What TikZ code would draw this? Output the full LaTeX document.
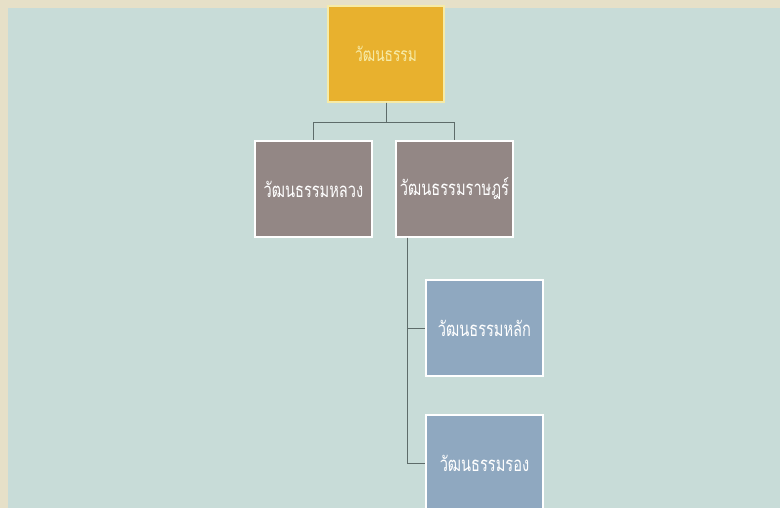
\documentclass[tikz,border=0pt]{standalone}
\usepackage{fontspec}
\newfontfamily\thaifont[Script=Thai]{Loma}
\usetikzlibrary{positioning, calc}
\definecolor{bgblue}{HTML}{C8DCD8}
\definecolor{bgbeige}{HTML}{E6E0C8}
\definecolor{rootgold}{HTML}{E8B12E}
\definecolor{rootedge}{HTML}{F6EBA8}
\definecolor{taupe}{HTML}{938785}
\definecolor{steel}{HTML}{8FA8C0}
\definecolor{linkgray}{HTML}{5E6C6A}
\newcommand{\narrowtext}[1]{\scalebox{0.86}[1.2]{#1}}
\tikzstyle{box} = [rectangle, draw=white, line width=1.5pt, minimum width=117pt, minimum height=96pt, inner sep=0pt, text=white, font=\thaifont\fontsize{17}{20}\selectfont]
\tikzstyle{link} = [draw=linkgray, line width=1pt]

\begin{document}
\begin{tikzpicture}[x=1pt, y=-1pt]
        % Background
        \fill[bgbeige] (0,0) rectangle (780,508);
        \fill[bgblue] (8,8) rectangle (780,508);
        \useasboundingbox (0,0) rectangle (780,508);
        \clip (0,0) rectangle (780,508);

        % Boxes
        \node[box, fill=rootgold, draw=rootedge, minimum width=116pt, text=rootedge, font=\thaifont\fontsize{16}{18}\selectfont] (culture) at (386, 54) {\narrowtext{วัฒนธรรม}};
        \node[box, fill=taupe] (royal) at (313.5, 189) {\narrowtext{วัฒนธรรมหลวง}};
        \node[box, fill=taupe] (folk) at (454.5, 189) {\narrowtext{วัฒนธรรมราษฎร์}};
        \node[box, fill=steel] (major) at (484.5, 328) {\narrowtext{วัฒนธรรมหลัก}};
        \node[box, fill=steel] (minor) at (484.5, 463) {\narrowtext{วัฒนธรรมรอง}};

        % Links
        \draw[link] (culture.south) -- ++(0,20) -| (royal.north);
        \draw[link] (culture.south) -- ++(0,20) -| (folk.north);
        \draw[link] ([xshift=12pt]folk.south west) |- (major.west);
        \draw[link] ([xshift=12pt]folk.south west) |- (minor.west);

    \end{tikzpicture}
\end{document}
